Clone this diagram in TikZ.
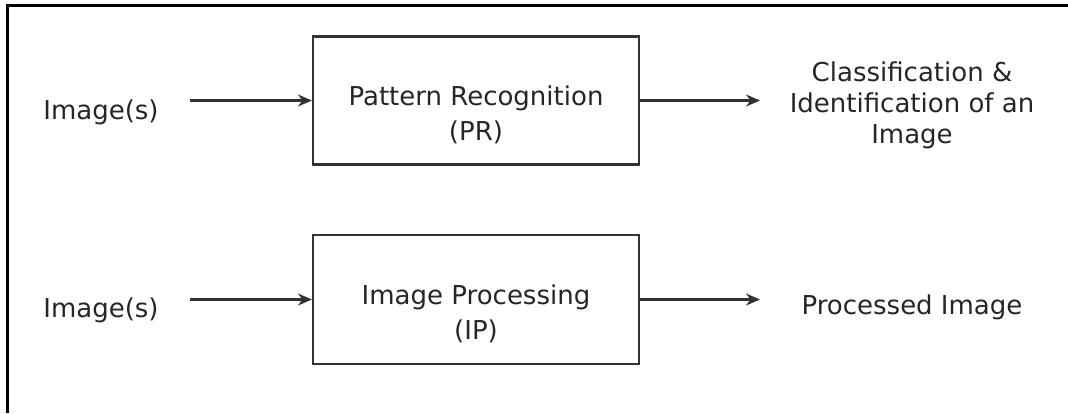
\documentclass[tikz,border=0pt]{standalone}
\usepackage{fontspec}
\setmainfont{DejaVu Sans}
\usetikzlibrary{arrows.meta}
\begin{document}
\begin{tikzpicture}[x=0.5pt,y=-0.5pt,
  lbl/.style={font=\fontsize{13}{15.5}\selectfont, text=black!85, inner sep=0pt, align=center},
  boxtxt/.style={font=\fontsize{13}{17.5}\selectfont, text=black!85, inner sep=0pt, align=center, yshift=-7pt},
  proc/.style={draw=black!80, line width=1.1pt, minimum width=163pt, minimum height=64pt},
  arr/.style={draw=black!80, line width=1.1pt, -{Stealth[length=7pt,width=6pt]}}]
\useasboundingbox (0,0) rectangle (1068,413);
\draw[line width=1.5pt, black] (7,413) -- (7,5) -- (1068,5);
\node[proc, label={[boxtxt]center:Pattern Recognition\\(PR)}] (pr) at (476,100.5) {};
\node[proc, minimum height=64.5pt, label={[boxtxt]center:Image Processing\\(IP)}] (ip) at (476,299.5) {};
\node[lbl, anchor=base] (in1) at (101,119) {Image(s)};
\node[lbl, anchor=base] (in2) at (101,317) {Image(s)};
\node[lbl] (out1) at (912,105) {Classification \&\\Identification of an\\Image};
\node[lbl, anchor=base] (out2) at (912,314) {Processed Image};
\coordinate (s1) at (190,100.5);
\coordinate (s2) at (190,299.5);
\coordinate (e1) at (760,100.5);
\coordinate (e2) at (760,299.5);
\draw[arr] (s1) -- (pr.west);
\draw[arr] (s2) -- (ip.west);
\draw[arr] (pr.east) -- (e1);
\draw[arr] (ip.east) -- (e2);
\end{tikzpicture}
\end{document}
